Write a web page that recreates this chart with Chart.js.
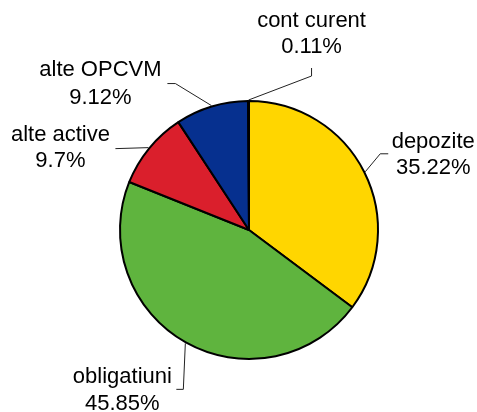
<!DOCTYPE html>
<html>
<head>
<meta charset="utf-8">
<script src="https://cdn.jsdelivr.net/npm/chart.js@4.4.0/dist/chart.umd.min.js"></script>
<style>
  html, body { margin: 0; padding: 0; background: #fff; }
  #wrap { width: 477px; height: 412px; }
</style>
</head>
<body>
<div id="wrap"><canvas id="pie" width="477" height="412"></canvas></div>
<script>
// Données du graphique
const categories = ['depozite', 'obligatiuni', 'alte active', 'alte OPCVM', 'cont curent'];
const values = [35.22, 45.85, 9.7, 9.12, 0.11];
const valueLabels = ['35.22%', '45.85%', '9.7%', '9.12%', '0.11%'];
const colors = ['#FFD600', '#5FB43E', '#DA1F2C', '#06308F', '#FFFFFF'];

// Lignes de rappel : coude, fin, et centre du texte (relatifs au point de départ / fin)
const leaders = [
    { elbow: [15, -18], end: [23, -18], text: [45, -12, 14] },
    { elbow: [-2, 46], end: [-9, 46], text: [-54, -12, 15] },
    { elbow: [-33, 1], end: [-33, 1], text: [-55, -14, 12] },
    { elbow: [-36, -22], end: [-44, -22], text: [-67, -14, 14] },
    { elbow: [63, -24], end: [63, -32], text: [0, -47, -21] }
];

const labelPlugin = {
    id: 'leaderLabels',
    afterDraw(chart) {
        const ctx = chart.ctx;
        const meta = chart.getDatasetMeta(0);
        ctx.save();
        ctx.strokeStyle = '#222';
        ctx.lineWidth = 1;
        ctx.fillStyle = '#000';
        ctx.font = '22px "Liberation Sans", Arial, sans-serif';
        ctx.textAlign = 'center';
        ctx.textBaseline = 'middle';
        meta.data.forEach((arc, i) => {
            const p = arc.getProps(['x', 'y', 'startAngle', 'endAngle', 'outerRadius'], true);
            const mid = (p.startAngle + p.endAngle) / 2;
            const sx = p.x + Math.cos(mid) * (p.outerRadius + 1);
            const sy = p.y + Math.sin(mid) * (p.outerRadius + 1);
            const l = leaders[i];
            const ex = sx + l.end[0], ey = sy + l.end[1];
            ctx.beginPath();
            ctx.moveTo(sx, sy);
            ctx.lineTo(sx + l.elbow[0], sy + l.elbow[1]);
            ctx.lineTo(ex, ey);
            ctx.stroke();
            ctx.fillText(categories[i], ex + l.text[0], ey + l.text[1]);
            ctx.fillText(valueLabels[i], ex + l.text[0], ey + l.text[2]);
        });
        ctx.restore();
    }
};

new Chart(document.getElementById('pie').getContext('2d'), {
    type: 'pie',
    data: {
        labels: categories,
        datasets: [{
            data: values,
            backgroundColor: colors,
            borderColor: '#000',
            borderWidth: 2
        }]
    },
    options: {
        responsive: false,
        animation: false,
        events: [],
        layout: { padding: { left: 119, right: 98, top: 100, bottom: 52 } },
        plugins: {
            legend: { display: false },
            tooltip: { enabled: false }
        }
    },
    plugins: [labelPlugin]
});
</script>
</body>
</html>
